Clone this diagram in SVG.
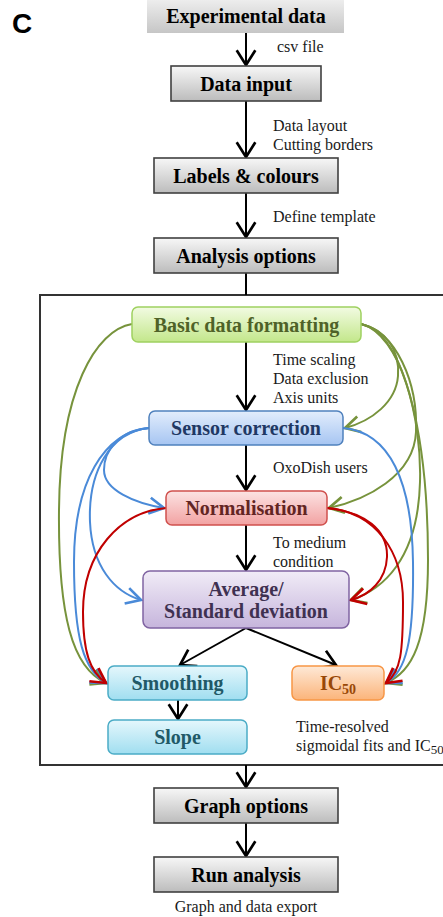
<svg xmlns="http://www.w3.org/2000/svg" width="443" height="917" viewBox="0 0 443 917">
  <defs>
    <style>
      .title { font-family: "Liberation Serif", "Times New Roman", serif; font-weight: bold; font-size: 20px; text-anchor: middle; }
      .note { font-family: "Liberation Serif", "Times New Roman", serif; font-size: 16px; fill: #1a1a1a; }
      .sub { font-size: 13px; }
      .gbox { fill: url(#gGray); stroke: #404040; stroke-width: 1.6; }
      .flow { fill: none; stroke: #000; stroke-width: 2; }
      .c-green { fill: none; stroke: #77933c; stroke-width: 2; }
      .c-blue { fill: none; stroke: #4a8ad8; stroke-width: 2; }
      .c-red { fill: none; stroke: #c00000; stroke-width: 2; }
    </style>
    <linearGradient id="gGray" x1="0" y1="0" x2="0" y2="1">
      <stop offset="0" stop-color="#f7f7f7"/><stop offset="1" stop-color="#bcbcbc"/>
    </linearGradient>
    <linearGradient id="gTop" x1="0" y1="0" x2="0" y2="1">
      <stop offset="0" stop-color="#ededed"/><stop offset="1" stop-color="#c6c6c6"/>
    </linearGradient>
    <linearGradient id="gGreen" x1="0" y1="0" x2="0" y2="1">
      <stop offset="0" stop-color="#f2fbe2"/><stop offset="1" stop-color="#c3e78b"/>
    </linearGradient>
    <linearGradient id="gBlue" x1="0" y1="0" x2="0" y2="1">
      <stop offset="0" stop-color="#e2edfc"/><stop offset="1" stop-color="#a6c5f2"/>
    </linearGradient>
    <linearGradient id="gRed" x1="0" y1="0" x2="0" y2="1">
      <stop offset="0" stop-color="#fce3e3"/><stop offset="1" stop-color="#f2a2a2"/>
    </linearGradient>
    <linearGradient id="gPurple" x1="0" y1="0" x2="0" y2="1">
      <stop offset="0" stop-color="#f1ecf7"/><stop offset="1" stop-color="#c6b5dc"/>
    </linearGradient>
    <linearGradient id="gCyan" x1="0" y1="0" x2="0" y2="1">
      <stop offset="0" stop-color="#e5f7fc"/><stop offset="1" stop-color="#a0def0"/>
    </linearGradient>
    <linearGradient id="gOrange" x1="0" y1="0" x2="0" y2="1">
      <stop offset="0" stop-color="#fee9d7"/><stop offset="1" stop-color="#fbb47a"/>
    </linearGradient>
    <marker id="aBlack" markerUnits="userSpaceOnUse" markerWidth="24" markerHeight="24" refX="0" refY="0" viewBox="-13 -9 15 18" orient="auto">
      <path d="M-11,-7 L0,0 L-11,7" fill="none" stroke="#000" stroke-width="2"/>
    </marker>
    <marker id="aGreen" markerUnits="userSpaceOnUse" markerWidth="24" markerHeight="24" refX="0" refY="0" viewBox="-13 -9 15 18" orient="auto">
      <path d="M-11,-6 L0,0 L-11,6" fill="none" stroke="#77933c" stroke-width="2"/>
    </marker>
    <marker id="aBlue" markerUnits="userSpaceOnUse" markerWidth="24" markerHeight="24" refX="0" refY="0" viewBox="-13 -9 15 18" orient="auto">
      <path d="M-11,-6 L0,0 L-11,6" fill="none" stroke="#4a8ad8" stroke-width="2"/>
    </marker>
    <marker id="aRed" markerUnits="userSpaceOnUse" markerWidth="24" markerHeight="24" refX="0" refY="0" viewBox="-13 -9 15 18" orient="auto">
      <path d="M-11,-6 L0,0 L-11,6" fill="none" stroke="#c00000" stroke-width="2"/>
    </marker>
  </defs>

  <rect width="443" height="917" fill="#ffffff"/>

  <!-- panel letter -->
  <text x="12" y="33" font-family="'Liberation Sans', Arial, sans-serif" font-weight="bold" font-size="28" fill="#000">C</text>

  <!-- analysis frame -->
  <rect id="analysis-frame" x="40" y="295" width="430" height="470" fill="none" stroke="#333" stroke-width="2"/>

  <!-- connectors -->
  <g id="connectors">
    <!-- main flow -->
    <line class="flow" x1="246" y1="33" x2="246" y2="65" marker-end="url(#aBlack)"/>
    <line class="flow" x1="246" y1="101" x2="246" y2="157" marker-end="url(#aBlack)"/>
    <line class="flow" x1="246" y1="193" x2="246" y2="237" marker-end="url(#aBlack)"/>
    <line class="flow" x1="246" y1="273" x2="246" y2="295"/>
    <line class="flow" x1="246" y1="342" x2="246" y2="410" marker-end="url(#aBlack)"/>
    <line class="flow" x1="246" y1="445" x2="246" y2="490" marker-end="url(#aBlack)"/>
    <line class="flow" x1="246" y1="525" x2="246" y2="570" marker-end="url(#aBlack)"/>
    <line class="flow" x1="246" y1="628" x2="180" y2="665" marker-end="url(#aBlack)"/>
    <line class="flow" x1="246" y1="628" x2="336" y2="665" marker-end="url(#aBlack)"/>
    <line class="flow" x1="178" y1="700" x2="178" y2="719" marker-end="url(#aBlack)"/>
    <line class="flow" x1="246" y1="765" x2="246" y2="787" marker-end="url(#aBlack)"/>
    <line class="flow" x1="246" y1="823" x2="246" y2="856" marker-end="url(#aBlack)"/>

    <!-- basic data formatting shortcuts -->
    <path class="c-green" d="M132,324 C96,330 60,390 59,510 C58,615 72,668 106,683" marker-end="url(#aGreen)"/>
    <path class="c-green" d="M361,324 C386,330 400,350 398,376 C396,402 372,421 345,428" marker-end="url(#aGreen)"/>
    <path class="c-green" d="M361,324 C396,332 418,382 416,432 C414,476 366,500 329,508" marker-end="url(#aGreen)"/>
    <path class="c-green" d="M361,324 C401,334 422,420 420,482 C418,560 382,590 351,600" marker-end="url(#aGreen)"/>
    <path class="c-green" d="M361,324 C406,334 428,440 428,560 C428,642 412,672 386,683" marker-end="url(#aGreen)"/>

    <!-- sensor correction shortcuts -->
    <path class="c-blue" d="M149,428 C120,430 104,450 104,470 C104,490 134,503 164,508" marker-end="url(#aBlue)"/>
    <path class="c-blue" d="M149,428 C110,432 88,472 90,522 C92,566 114,592 141,600" marker-end="url(#aBlue)"/>
    <path class="c-blue" d="M149,428 C104,432 74,482 74,562 C74,640 84,670 106,683" marker-end="url(#aBlue)"/>
    <path class="c-blue" d="M343,428 C390,432 412,482 413,562 C414,642 406,672 386,683" marker-end="url(#aBlue)"/>

    <!-- normalisation shortcuts -->
    <path class="c-red" d="M166,508 C120,512 83,552 83,612 C83,652 90,672 106,683" marker-end="url(#aRed)"/>
    <path class="c-red" d="M327,508 C365,512 388,530 387,557 C386,580 370,595 351,600" marker-end="url(#aRed)"/>
    <path class="c-red" d="M327,508 C376,512 403,552 403,602 C403,652 401,672 386,683" marker-end="url(#aRed)"/>
  </g>

  <!-- edge notes -->
  <g id="notes">
    <text class="note" x="277" y="52">csv file</text>
    <text class="note" x="273" y="131">Data layout</text>
    <text class="note" x="273" y="150">Cutting borders</text>
    <text class="note" x="273" y="222">Define template</text>
    <text class="note" x="273" y="365">Time scaling</text>
    <text class="note" x="273" y="384">Data exclusion</text>
    <text class="note" x="273" y="403">Axis units</text>
    <text class="note" x="273" y="473">OxoDish users</text>
    <text class="note" x="273" y="548">To medium</text>
    <text class="note" x="273" y="567">condition</text>
    <text class="note" x="296" y="732">Time-resolved</text>
    <text class="note" x="296" y="751">sigmoidal fits and IC<tspan class="sub" font-size="11" dy="3">50</tspan></text>
    <text class="note" x="246" y="912" text-anchor="middle">Graph and data export</text>
  </g>

  <!-- nodes -->
  <g id="experimental-data">
    <rect x="147" y="0" width="197" height="33" fill="url(#gTop)"/>
    <text class="title" x="246" y="23">Experimental data</text>
  </g>
  <g id="data-input">
    <rect class="gbox" x="171" y="66" width="150" height="35"/>
    <text class="title" x="246" y="91">Data input</text>
  </g>
  <g id="labels-colours">
    <rect class="gbox" x="154" y="158" width="184" height="35"/>
    <text class="title" x="246" y="183">Labels &amp; colours</text>
  </g>
  <g id="analysis-options">
    <rect class="gbox" x="154" y="238" width="184" height="35"/>
    <text class="title" x="246" y="263">Analysis options</text>
  </g>

  <g id="basic-data-formatting">
    <rect x="132" y="307" width="229" height="35" rx="6" fill="url(#gGreen)" stroke="#9fd160" stroke-width="1.5"/>
    <text class="title" x="246.5" y="332" fill="#4f6228">Basic data formatting</text>
  </g>
  <g id="sensor-correction">
    <rect x="149" y="411" width="194" height="34" rx="6" fill="url(#gBlue)" stroke="#4f81bd" stroke-width="1.5"/>
    <text class="title" x="246" y="435" fill="#1f3864">Sensor correction</text>
  </g>
  <g id="normalisation">
    <rect x="166" y="491" width="161" height="34" rx="6" fill="url(#gRed)" stroke="#d0504d" stroke-width="1.5"/>
    <text class="title" x="246.5" y="515" fill="#632523">Normalisation</text>
  </g>
  <g id="average-sd">
    <rect x="143" y="571" width="206" height="57" rx="7" fill="url(#gPurple)" stroke="#8064a2" stroke-width="1.5"/>
    <text class="title" x="246" y="596" fill="#3f3151">Average/</text>
    <text class="title" x="246" y="618" fill="#3f3151">Standard deviation</text>
  </g>
  <g id="smoothing">
    <rect x="108" y="666" width="139" height="34" rx="6" fill="url(#gCyan)" stroke="#4bacc6" stroke-width="1.5"/>
    <text class="title" x="177.5" y="690" fill="#215967">Smoothing</text>
  </g>
  <g id="ic50">
    <rect x="292" y="666" width="92" height="34" rx="6" fill="url(#gOrange)" stroke="#f79646" stroke-width="1.5"/>
    <text class="title" x="338" y="690" fill="#984807">IC<tspan font-size="14" dy="4">50</tspan></text>
  </g>
  <g id="slope">
    <rect x="108" y="720" width="139" height="34" rx="6" fill="url(#gCyan)" stroke="#4bacc6" stroke-width="1.5"/>
    <text class="title" x="177.5" y="744" fill="#215967">Slope</text>
  </g>

  <g id="graph-options">
    <rect class="gbox" x="154" y="788" width="184" height="35"/>
    <text class="title" x="246" y="813">Graph options</text>
  </g>
  <g id="run-analysis">
    <rect class="gbox" x="154" y="857" width="184" height="35"/>
    <text class="title" x="246" y="882">Run analysis</text>
  </g>
</svg>
